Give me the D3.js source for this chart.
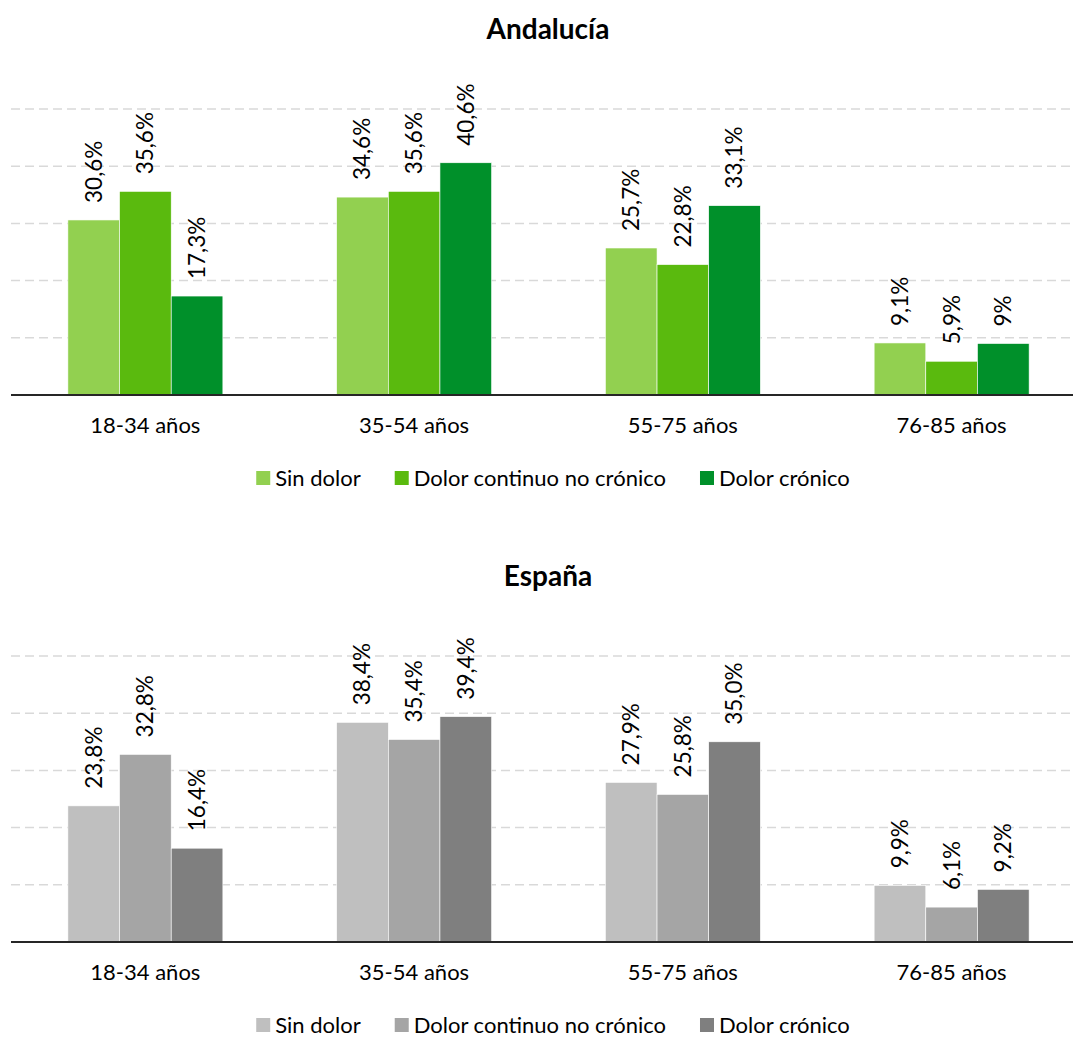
<!DOCTYPE html>
<html>
<head>
<meta charset="utf-8">
<script src="https://cdn.jsdelivr.net/npm/d3@7"></script>
<style>
  html, body { margin: 0; padding: 0; background: #fff; }
  svg { display: block; font-family: Lato, "Open Sans", sans-serif; }
</style>
</head>
<body>
<svg id="chart" width="1073" height="1037"></svg>
<script>
const categories = ["18-34 años", "35-54 años", "55-75 años", "76-85 años"];
const seriesNames = ["Sin dolor", "Dolor continuo no crónico", "Dolor crónico"];
const yTicks = [10, 20, 30, 40, 50];

const andaluciaSinDolor = [30.6, 34.6, 25.7, 9.1];
const andaluciaContinuo = [35.6, 35.6, 22.8, 5.9];
const andaluciaCronico = [17.3, 40.6, 33.1, 9.0];
const andaluciaLabels = [
  ["30,6%", "34,6%", "25,7%", "9,1%"],
  ["35,6%", "35,6%", "22,8%", "5,9%"],
  ["17,3%", "40,6%", "33,1%", "9%"]
];

const espanaSinDolor = [23.8, 38.4, 27.9, 9.9];
const espanaContinuo = [32.8, 35.4, 25.8, 6.1];
const espanaCronico = [16.4, 39.4, 35.0, 9.2];
const espanaLabels = [
  ["23,8%", "38,4%", "27,9%", "9,9%"],
  ["32,8%", "35,4%", "25,8%", "6,1%"],
  ["16,4%", "39,4%", "35,0%", "9,2%"]
];

const greenColors = ["#92D050", "#5ABA0E", "#00902A"];
const grayColors = ["#BFBFBF", "#A5A5A5", "#7F7F7F"];

const svg = d3.select("#chart");

function drawPanel(opts) {
  const { title, series, labels, colors, offsetY } = opts;
  const g = svg.append("g").attr("transform", `translate(0,${offsetY})`);
  const baseY = 395, topY = 109;

  const x0 = d3.scaleBand().domain(categories).range([11, 1086])
    .paddingInner(0.4233).paddingOuter(0.4233 / 2);
  const x1 = d3.scaleBand().domain(d3.range(seriesNames.length)).range([0, x0.bandwidth()]);
  const y = d3.scaleLinear().domain([0, 50]).range([baseY, topY]);

  // title
  g.append("text").attr("x", 548).attr("y", 39).attr("text-anchor", "middle")
    .attr("font-size", 28).attr("font-weight", "bold").attr("fill", "#000").text(title);

  // gridlines
  g.append("g").selectAll("line").data(yTicks).join("line")
    .attr("x1", 11).attr("x2", 1073)
    .attr("y1", d => y(d)).attr("y2", d => y(d))
    .attr("stroke", "#d9d9d9").attr("stroke-width", 1.5).attr("stroke-dasharray", "9,5");

  // bars
  const groups = g.append("g").selectAll("g").data(categories).join("g")
    .attr("transform", d => `translate(${x0(d)},0)`);
  groups.selectAll("rect").data((c, ci) => series.map((s, si) => ({ si, v: s[ci], lab: labels[si][ci] })))
    .join("rect")
    .attr("x", d => x1(d.si)).attr("width", x1.bandwidth())
    .attr("y", d => y(d.v)).attr("height", d => baseY - y(d.v))
    .attr("fill", d => colors[d.si])
    .attr("stroke", "#fff").attr("stroke-width", 0.6);

  // data labels
  groups.selectAll("text").data((c, ci) => series.map((s, si) => ({ si, v: s[ci], lab: labels[si][ci] })))
    .join("text")
    .attr("transform", d => `translate(${x1(d.si) + x1.bandwidth() / 2},${y(d.v) - 17}) rotate(-90)`)
    .attr("dy", "0.35em").attr("text-anchor", "start")
    .attr("font-size", 22.5).attr("fill", "#000").text(d => d.lab);

  // baseline axis
  const axis = g.append("g").attr("transform", `translate(0,${baseY})`)
    .call(d3.axisBottom(x0).tickSize(0).tickPadding(22));
  axis.select(".domain").attr("d", "M11,0H1073").attr("stroke", "#262626").attr("stroke-width", 2);
  axis.selectAll("text").attr("font-size", 22).attr("fill", "#000")
    .attr("font-family", "Lato, 'Open Sans', sans-serif");

  // legend
  const leg = g.append("g");
  const items = leg.selectAll("g").data(seriesNames).join("g");
  items.append("rect").attr("width", 14).attr("height", 14).attr("y", 471)
    .attr("fill", (d, i) => colors[i]);
  items.append("text").attr("x", 19).attr("y", 486)
    .attr("font-size", 22).attr("fill", "#000").text(d => d);
  let xs = [];
  let total = 0;
  items.each(function (d, i) {
    const w = 19 + this.querySelector("text").getComputedTextLength();
    xs.push(total);
    total += w + (i < seriesNames.length - 1 ? 34 : 0);
  });
  const start = 553 - total / 2;
  items.attr("transform", (d, i) => `translate(${start + xs[i]},0)`);
}

drawPanel({
  title: "Andalucía",
  series: [andaluciaSinDolor, andaluciaContinuo, andaluciaCronico],
  labels: andaluciaLabels, colors: greenColors, offsetY: 0
});
drawPanel({
  title: "España",
  series: [espanaSinDolor, espanaContinuo, espanaCronico],
  labels: espanaLabels, colors: grayColors, offsetY: 547
});
</script>
</body>
</html>
